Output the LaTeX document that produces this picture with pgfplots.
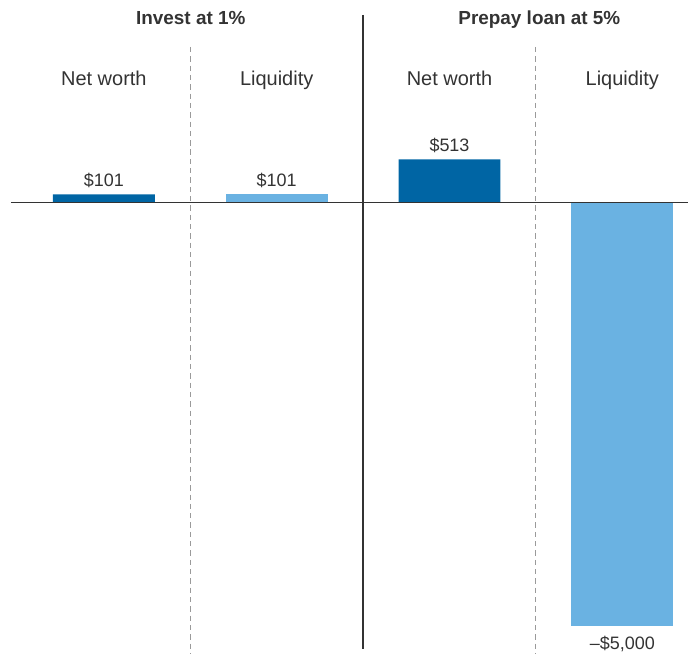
\documentclass[border=0pt]{standalone}
\usepackage{pgfplots}
\pgfplotsset{compat=1.18}
\usepackage{fontspec}
\setmainfont{Liberation Sans}
\definecolor{dark}{HTML}{0065A4}
\definecolor{light}{HTML}{6AB2E2}
\definecolor{txt}{HTML}{333333}
\definecolor{sep}{HTML}{9A9A9A}
\begin{document}
\begin{tikzpicture}
\begin{axis}[
 width=516.75pt, height=490.5pt, scale only axis,
 xmin=-0.601, xmax=3.382, ymin=-5318, ymax=2394,
 axis lines=none, clip=false,
 ybar, bar width=0.59, bar shift=0pt,
 point meta=explicit symbolic,
 nodes near coords,
 every node near coord/.append style={font=\fontsize{13.5}{16}\selectfont, text=txt, inner sep=2pt, anchor=south, yshift=3pt},
]
\addplot[fill=dark, draw=none] coordinates {(0,101) [{\$101}] (2,513) [{\$513}]};
\addplot[fill=light, draw=none] coordinates {(1,101) [{\$101}]};
\addplot[fill=light, draw=none, every node near coord/.append style={anchor=north, yshift=-8pt}] coordinates {(3,-5000) [{--\$5,000}]};
\draw[txt, line width=1pt] (axis cs:-0.538,0) -- (axis cs:3.382,0);
\draw[txt, line width=0.9pt] (axis cs:1.5,2217) -- (axis cs:1.5,-5271);
\draw[sep, line width=0.8pt, dash pattern=on 4pt off 3pt] (axis cs:0.5,1840) -- (axis cs:0.5,-5318);
\draw[sep, line width=0.8pt, dash pattern=on 4pt off 3pt] (axis cs:2.5,1840) -- (axis cs:2.5,-5318);
\node[anchor=base, text=txt, font=\fontsize{14.2}{17}\selectfont\bfseries] at (axis cs:0.503,2099) {Invest at 1\%};
\node[anchor=base, text=txt, font=\fontsize{14.2}{17}\selectfont\bfseries] at (axis cs:2.52,2099) {Prepay loan at 5\%};
\node[anchor=base, text=txt, font=\fontsize{15}{18}\selectfont] at (axis cs:0,1380) {Net worth};
\node[anchor=base, text=txt, font=\fontsize{15}{18}\selectfont] at (axis cs:1,1380) {Liquidity};
\node[anchor=base, text=txt, font=\fontsize{15}{18}\selectfont] at (axis cs:2,1380) {Net worth};
\node[anchor=base, text=txt, font=\fontsize{15}{18}\selectfont] at (axis cs:3,1380) {Liquidity};
\path (rel axis cs:0,0) (rel axis cs:1,1);
\end{axis}
\end{tikzpicture}
\end{document}
